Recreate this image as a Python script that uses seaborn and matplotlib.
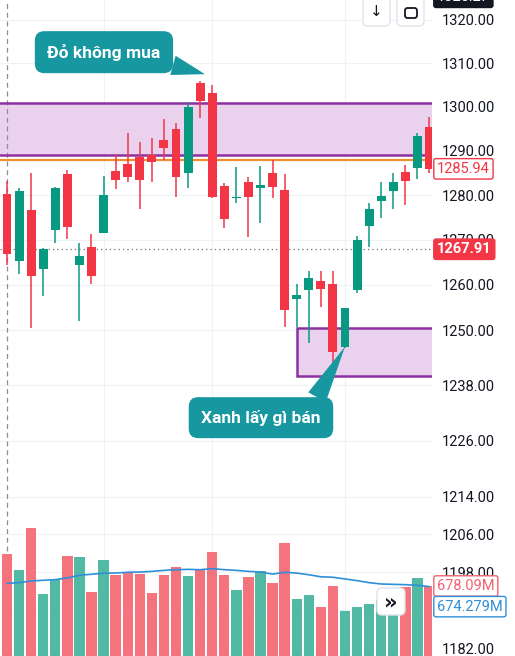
import numpy as np
import matplotlib
matplotlib.use("Agg")
import matplotlib.pyplot as plt
import matplotlib.transforms as mtransforms
from matplotlib.patches import FancyBboxPatch, Rectangle
from matplotlib.ticker import NullLocator
import seaborn as sns

# --- data (candle index 0..35) ---
opens = [1280.3, 1265.4, 1276.7, 1263.6, 1272.1, 1284.8, 1264.3, 1268.5, 1271.6, 1285.4,
         1287.0, 1288.6, 1289.1, 1292.5, 1295.0, 1285.0, 1305.5, 1303.2, 1282.1, 1279.4,
         1283.0, 1281.7, 1285.0, 1281.2, 1256.8, 1258.8, 1260.8, 1260.3, 1246.4, 1258.8,
         1273.2, 1278.8, 1281.0, 1285.2, 1286.1, 1295.5]
closes = [1266.8, 1281.0, 1261.9, 1267.9, 1281.7, 1272.8, 1266.5, 1261.9, 1280.1, 1283.4,
          1284.1, 1283.4, 1287.5, 1290.7, 1284.1, 1300.0, 1301.4, 1279.6, 1274.6, 1279.6,
          1279.6, 1282.3, 1281.9, 1254.4, 1257.7, 1261.5, 1259.0, 1245.3, 1254.8, 1269.9,
          1277.0, 1279.9, 1283.0, 1283.2, 1293.4, 1285.94]
highs = [1283.3, 1281.7, 1285.0, 1268.1, 1281.9, 1285.7, 1269.2, 1271.4, 1284.4, 1289.1,
         1294.1, 1292.1, 1293.0, 1297.2, 1296.3, 1301.1, 1306.0, 1305.0, 1282.8, 1286.4,
         1284.1, 1286.6, 1288.0, 1284.8, 1260.1, 1263.0, 1263.0, 1263.0, 1255.0, 1270.8,
         1278.2, 1283.0, 1285.0, 1286.8, 1294.1, 1297.7]
lows = [1264.5, 1262.3, 1250.6, 1257.5, 1269.4, 1270.3, 1252.0, 1260.3, 1271.6, 1281.4,
        1283.0, 1276.9, 1283.0, 1288.0, 1279.6, 1281.7, 1297.5, 1279.4, 1272.6, 1278.3,
        1270.7, 1273.7, 1279.4, 1250.8, 1250.8, 1247.3, 1255.2, 1239.9, 1246.2, 1258.3,
        1268.4, 1274.9, 1277.0, 1277.7, 1283.6, 1285.0]
volumes = [868, 773, 1023, 630, 714, 857, 851, 642, 833, 744, 755, 749, 636, 744, 791, 738,
           779, 880, 744, 654, 732, 767, 696, 934, 601, 625, 553, 678, 529, 553, 571, 595,
           613, 672, 726, 678.09]
vol_ma = [694, 698, 708, 712, 716, 726, 742, 748, 754, 755, 760, 761, 765, 771, 775, 777,
          775, 781, 775, 771, 765, 761, 749, 760, 755, 745, 733, 730, 720, 710, 698, 690,
          688, 686, 682, 674.279]
price_ticks = [1320, 1310, 1300, 1290, 1280, 1270, 1260, 1250, 1238, 1226, 1214, 1206,
               1198, 1190, 1182]
grid_days = [8, 17, 28]

zone_top, zone_bottom = 1300.8, 1289.1
orange_level = 1288.0
demand_top, demand_bottom, demand_start = 1250.6, 1239.9, 24
prev_close = 1267.91
last_price = 1285.94
high_label = 1325.27
last_volume = 678.09
last_vol_ma = 674.279

UP, DOWN = "#089981", "#f23645"
VOL_UP, VOL_DOWN = "#52b9a4", "#f5737d"
TEAL = "#1797a0"
PURPLE = "#8f30a1"
ZONE_FILL = "#ead2ef"

sns.set_theme(style="white")
plt.rcParams["font.family"] = ["Roboto", "DejaVu Sans"]

W, H = 515, 656
fig = plt.figure(figsize=(W / 100, H / 100), dpi=100)
ax = fig.add_axes([0, 0, 432 / W, 1])
vax = ax.twinx()

idx = np.arange(len(opens))
o, c = np.array(opens), np.array(closes)
up = c >= o
cols = np.where(up, UP, DOWN)

# price pane
ax.set_yscale("log")
ax.set_xlim(-0.58, 35.21)
ax.set_ylim(1180.5, 1324.64)
ax.yaxis.tick_right()
ax.set_yticks(price_ticks)
ax.set_yticklabels([f"{t:.2f}" for t in price_ticks])
ax.yaxis.set_minor_locator(NullLocator())
ax.set_xticks(grid_days)
ax.set_xticklabels([])
ax.tick_params(axis="y", length=0, pad=7, labelsize=10.5, labelcolor="#131722")
ax.tick_params(axis="x", length=0)
ax.grid(True, color="#eef1f6", lw=0.8)
for s in ax.spines.values():
    s.set_visible(False)

ax.axhspan(zone_bottom, zone_top, fc=ZONE_FILL, ec="none", zorder=1)
ax.axhline(zone_top, color=PURPLE, lw=1.8, zorder=2)
ax.axhline(zone_bottom, color=PURPLE, lw=1.8, zorder=2)
ax.axhline(orange_level, color="#ef8f2f", lw=1.6, zorder=2)
ax.add_patch(Rectangle((demand_start, demand_bottom), 20, demand_top - demand_bottom,
                       fc=ZONE_FILL, ec=PURPLE, lw=1.8, zorder=1))
ax.axvline(0, color="#8a8e97", lw=0.9, ls=(0, (4, 3)), zorder=1.5)
ax.axhline(prev_close, color="#6b6f78", lw=0.9, ls=(0, (1, 2.5)), zorder=1.5)

body_lo = np.minimum(o, c)
body_h = np.maximum(np.abs(c - o), 0.3)
ax.vlines(idx, lows, highs, colors=cols, lw=1.1, zorder=3)
ax.bar(idx, body_h, bottom=body_lo, width=0.74, color=cols, zorder=4, linewidth=0)

# callouts
callout_box = dict(boxstyle="round,pad=0.72,rounding_size=0.55", fc=TEAL, ec="none")
ax.annotate("Đỏ không mua", xy=(16.4, 1307.5), xytext=(-101, 22),
            textcoords="offset pixels", ha="center", va="center", color="white",
            fontsize=12.5, fontweight="bold", zorder=6, bbox=callout_box,
            arrowprops=dict(arrowstyle="wedge,tail_width=1.15", fc=TEAL, ec="none",
                            relpos=(0.86, 0.18), shrinkA=0, shrinkB=0))
ax.annotate("Xanh lấy gì bán", xy=(28, opens[28]), xytext=(-84, -71),
            textcoords="offset pixels", ha="center", va="center", color="white",
            fontsize=12.5, fontweight="bold", zorder=6, bbox=callout_box,
            arrowprops=dict(arrowstyle="wedge,tail_width=1.15", fc=TEAL, ec="none",
                            relpos=(0.9, 0.85), shrinkA=0, shrinkB=0))

# volume overlay
vax.set_ylim(261.7, 4163.6)
vax.set_yticks([])
for s in vax.spines.values():
    s.set_visible(False)
vax.bar(idx, volumes, width=0.86, color=np.where(up, VOL_UP, VOL_DOWN), linewidth=0, zorder=2)
sns.lineplot(x=idx, y=vol_ma, ax=vax, color="#2f8fd9", lw=1.2, zorder=3)
vax.set_xlim(-0.58, 35.21)

# right-side value labels
def side_label(y, text, transform, fc, ec, tc, weight="normal", dy=0):
    tr = mtransforms.offset_copy(
        mtransforms.blended_transform_factory(ax.transAxes, transform),
        fig=fig, x=5, y=dy, units="dots")
    fig.text(1.0, y, text, transform=tr, ha="left", va="center", fontsize=10.5,
             color=tc, fontweight=weight, zorder=10,
             bbox=dict(boxstyle="round,pad=0.22,rounding_size=0.15", fc=fc, ec=ec, lw=1))

side_label(high_label, "1325.27", ax.transData, "#131722", "#131722", "white")
side_label(last_price, f"{last_price:.2f}", ax.transData, "white", DOWN, DOWN)
side_label(prev_close, f"{prev_close:.2f}", ax.transData, DOWN, DOWN, "white", "bold")
side_label(last_volume, f"{last_volume:.2f}M", vax.transData, "white", "#f0626e", "#f0626e")
side_label(last_vol_ma, f"{last_vol_ma:.3f}M", vax.transData, "white", "#2f8fd9", "#2f8fd9", dy=-20)

# toolbar buttons (pixel coordinates, origin top-left)
pix = mtransforms.IdentityTransform()
def button(x0, y0, w, h):
    fig.add_artist(FancyBboxPatch((x0, H - y0 - h), w, h, boxstyle="round,pad=0,rounding_size=5",
                                  fc="white", ec="#e0e3eb", lw=1, transform=pix, zorder=11))

button(363, -4, 27, 30)
fig.text(376.5, H - 12, "↓", transform=pix, ha="center", va="center", fontsize=11,
         color="#131722", family="DejaVu Sans", zorder=12)
button(397, -4, 27, 30)
fig.add_artist(FancyBboxPatch((405, H - 18), 12, 10, boxstyle="round,pad=0,rounding_size=2.5",
                              fc="white", ec="#131722", lw=1.3, transform=pix, zorder=12))
button(377, 588, 28, 27)
fig.text(391, H - 602, "»", transform=pix, ha="center", va="center", fontsize=15,
         color="#131722", family="DejaVu Sans", fontweight="bold", zorder=12)

fig.savefig("out.png", dpi=100, facecolor="white")
